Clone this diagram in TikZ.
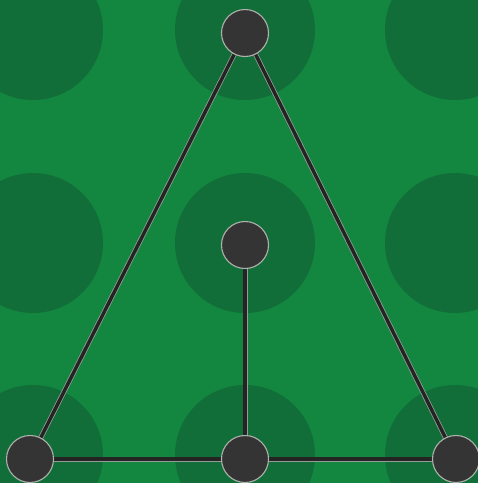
\documentclass[tikz,border=0pt]{standalone}
\definecolor{bggreen}{RGB}{19,135,64}
\definecolor{dotgreen}{RGB}{17,110,56}
\definecolor{nodegray}{RGB}{52,52,52}
\definecolor{rimgray}{RGB}{175,178,172}
\definecolor{linerim}{RGB}{150,155,150}
\definecolor{linedark}{RGB}{36,36,36}
\begin{document}
\begin{tikzpicture}[x=1pt,y=-1pt,
  vertex/.style={circle,minimum size=47pt,inner sep=0pt,fill=nodegray,draw=rimgray,line width=1.1pt},
  edge/.style={draw=linedark,line width=3.4pt,preaction={draw=linerim,line width=5pt}},
  bgdot/.style={fill=dotgreen}]
\fill[bggreen] (0,0) rectangle (478,483);
\useasboundingbox (0,0) rectangle (478,483);
\foreach \x in {33,245,455}{
  \foreach \y in {30,243,455}{
    \fill[bgdot] (\x,\y) circle (70);
  }
}
\coordinate (pt) at (245,33);
\coordinate (pc) at (245,245);
\coordinate (pl) at (30,459);
\coordinate (pm) at (245,459);
\coordinate (pr) at (456,459);
\path[edge] (pt) -- (pl);
\path[edge] (pt) -- (pr);
\path[edge] (pl) -- (pm);
\path[edge] (pm) -- (pr);
\path[edge] (pc) -- (pm);
\node[vertex] (t) at (pt) {};
\node[vertex] (c) at (pc) {};
\node[vertex] (l) at (pl) {};
\node[vertex] (m) at (pm) {};
\node[vertex] (r) at (pr) {};
\end{tikzpicture}
\end{document}
